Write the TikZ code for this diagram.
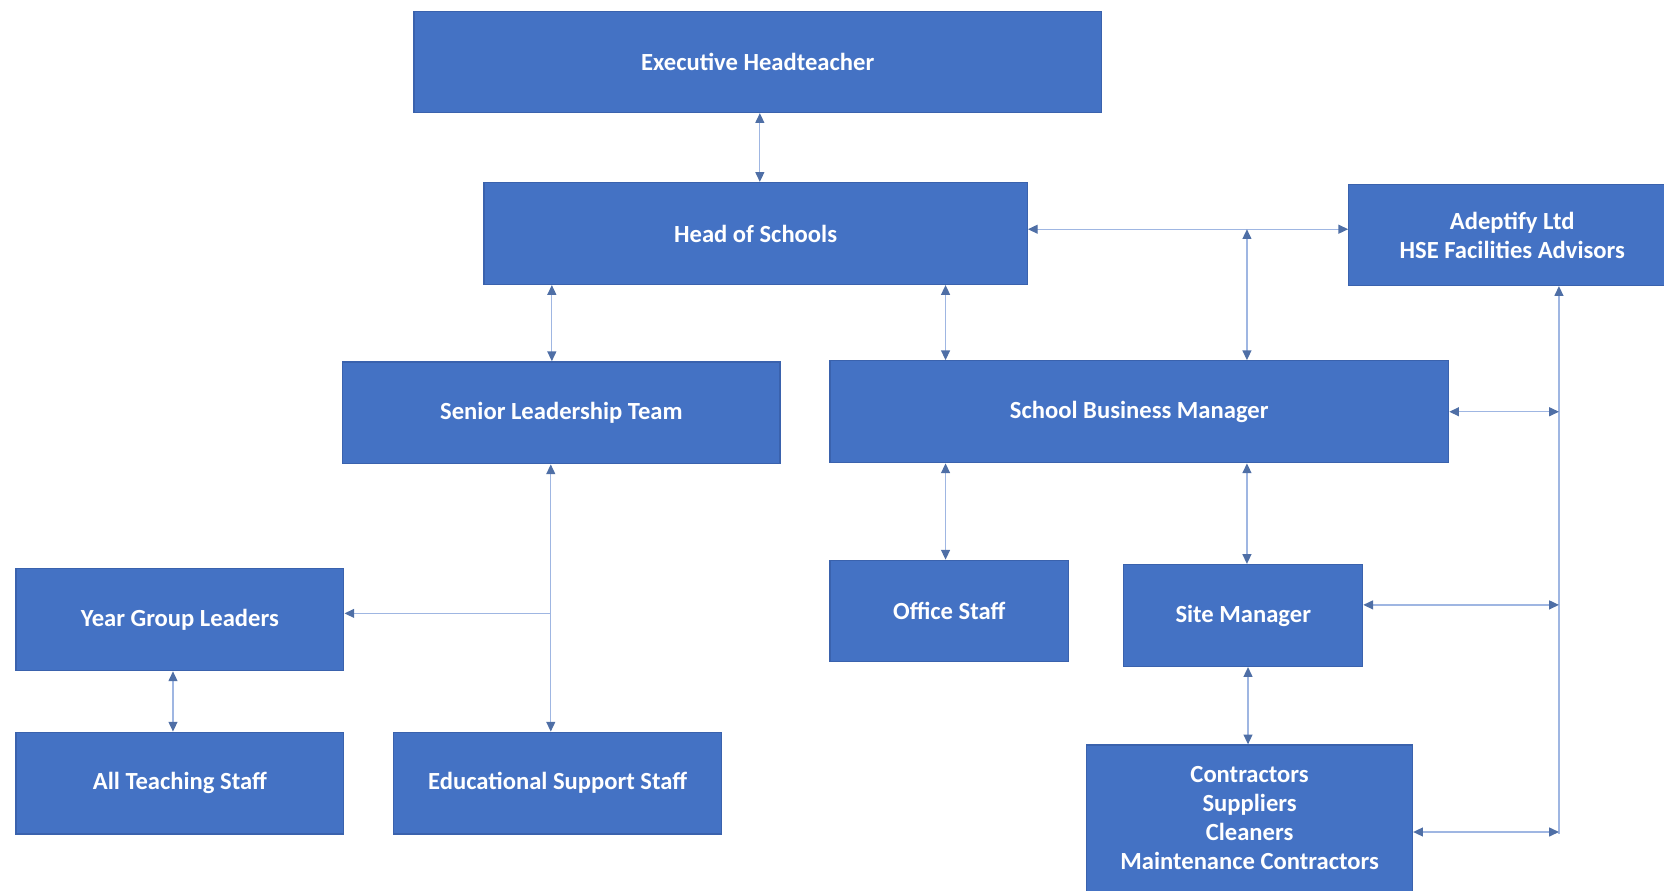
\documentclass[tikz,border=0pt]{standalone}
\usepackage{fontspec}
\setmainfont{Carlito}
\usetikzlibrary{arrows.meta}

\definecolor{boxblue}{HTML}{4472C4}
\definecolor{boxedge}{HTML}{3A62AD}
\definecolor{linkblue}{HTML}{9FB6E2}
\definecolor{tipblue}{HTML}{4F6FA6}

\tikzset{
  box/.style={draw=boxedge, line width=0.6pt, fill=boxblue, text=white, align=center,
    inner sep=0pt, font=\fontsize{11.6}{13.7}\selectfont\bfseries},
  link/.style={draw=linkblue, line width=0.6pt,
    {Triangle[length=4.6pt,width=4.2pt,color=tipblue]}-{Triangle[length=4.6pt,width=4.2pt,color=tipblue]}},
  linkto/.style={draw=linkblue, line width=0.6pt,
    -{Triangle[length=4.6pt,width=4.2pt,color=tipblue]}}
}

\begin{document}
\begin{tikzpicture}[x=0.5pt,y=-0.5pt]
\useasboundingbox (0,0) rectangle (1568,839);
\clip (0,0) rectangle (1568,839);

% top of the chart
\node[box, minimum width=324pt, minimum height=47.5pt] (eh) at (714,58.5) {Executive Headteacher};
\node[box, minimum width=256pt, minimum height=48pt] (hos) at (712,220) {Head of Schools};
\node[box, minimum width=154pt, minimum height=47.5pt] (adv) at (1425,221.5) {Adeptify Ltd\\HSE Facilities Advisors};

% second row
\node[box, minimum width=206pt, minimum height=48pt] (slt) at (529,389) {Senior Leadership Team};
\node[box, minimum width=291.5pt, minimum height=48pt] (sbm) at (1073.5,388) {School Business Manager};

% teaching side
\node[box, minimum width=154.5pt, minimum height=48pt] (ygl) at (169.5,584) {Year Group Leaders};
\node[box, minimum width=154.5pt, minimum height=48pt] (ats) at (169.5,738) {All Teaching Staff};
\node[box, minimum width=154.5pt, minimum height=48pt] (ess) at (525.5,738) {Educational Support Staff};

% business side
\node[box, minimum width=112.5pt, minimum height=47.5pt] (off) at (894.5,575.5) {Office Staff};
\node[box, minimum width=112.5pt, minimum height=48pt] (site) at (1171.5,580) {Site Manager};
\node[box, minimum width=153.5pt, minimum height=69pt] (con) at (1177.5,771) {Contractors\\Suppliers\\Cleaners\\Maintenance Contractors};

\coordinate (mid) at (1175,216);
\coordinate (split) at (519,578);
\coordinate (bus) at (1469,786);

\draw[link] (716,0 |- eh.south) -- (716,0 |- hos.north);
\draw[link] (520,0 |- hos.south) -- (520,0 |- slt.north);
\draw[link] (891,0 |- hos.south) -- (891,0 |- sbm.north);
\draw[link] (hos.east |- mid) -- (adv.west |- mid);
\draw[link] (mid) -- (mid |- sbm.north);

\draw[link] (split |- slt.south) -- (split |- ess.north);
\draw[linkto] (split) -- (split -| ygl.east);
\draw[link] (163,0 |- ygl.south) -- (163,0 |- ats.north);

\draw[link] (891,0 |- sbm.south) -- (891,0 |- off.north);
\draw[link] (1175,0 |- sbm.south) -- (1175,0 |- site.north);
\draw[link] (1176,0 |- site.south) -- (1176,0 |- con.north);

\draw[linkto] (bus) -- (bus |- adv.south);
\draw[link] (sbm.east) -- (sbm.east -| bus);
\draw[link] ([yshift=5pt]site.east) -- ([yshift=5pt]site.east -| bus);
\draw[link] ([yshift=-6.5pt]con.east) -- ([yshift=-6.5pt]con.east -| bus);
\end{tikzpicture}
\end{document}
